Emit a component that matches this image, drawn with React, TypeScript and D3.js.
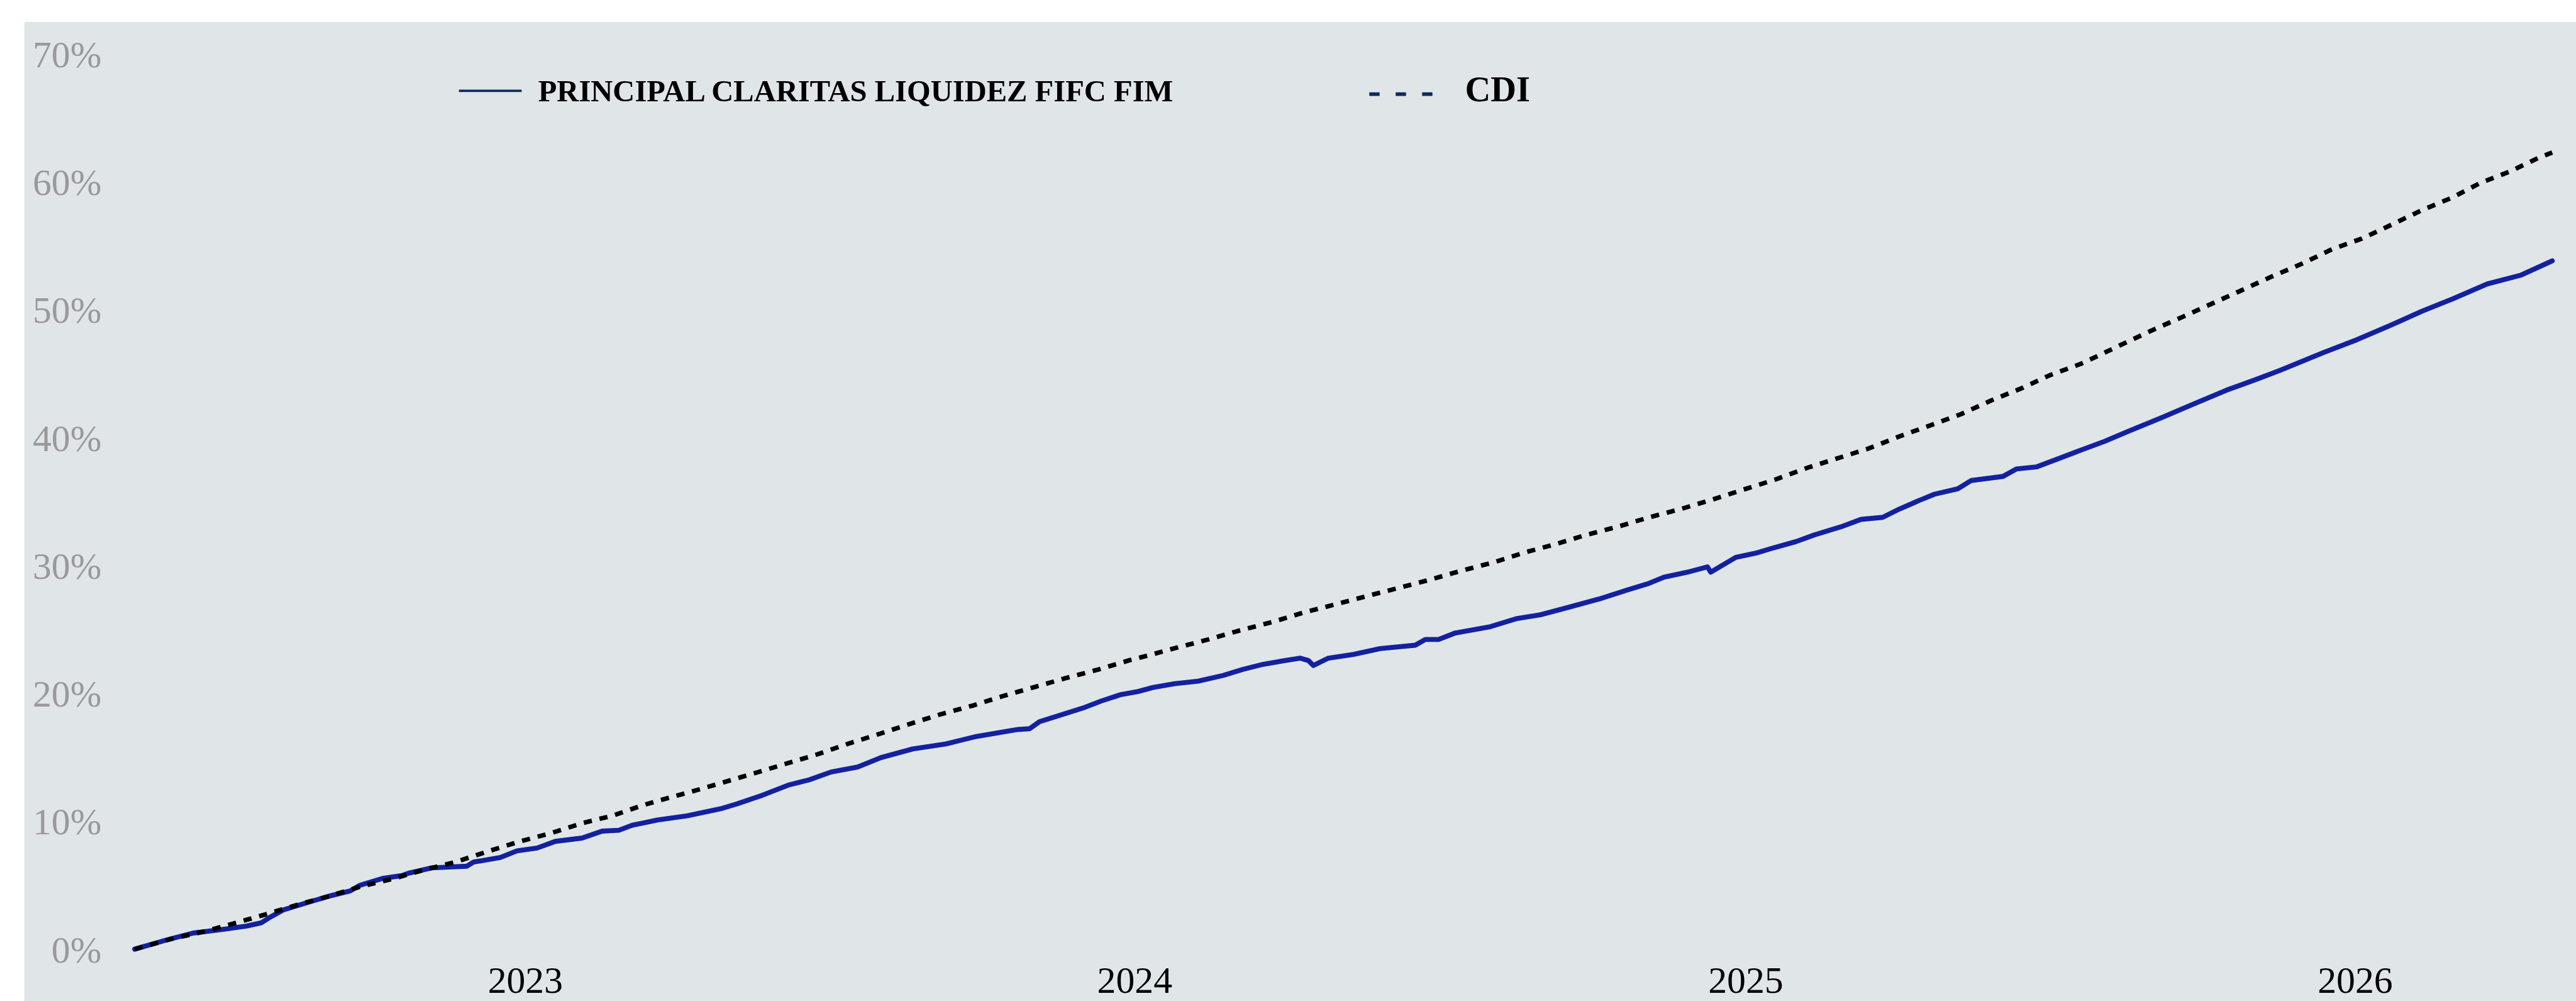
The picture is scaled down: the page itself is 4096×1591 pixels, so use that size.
import React from 'react';
import * as d3 from 'd3';

// values (cumulative return, %)
const fundDates = [
  '2022-05-12', '2022-05-30', '2022-06-16', '2022-07-04', '2022-07-18', '2022-07-27', '2022-08-01', '2022-08-09',
  '2022-08-21', '2022-09-05', '2022-09-18', '2022-09-24', '2022-10-08', '2022-10-19', '2022-10-23', '2022-11-06',
  '2022-11-27', '2022-12-01', '2022-12-17', '2022-12-27', '2023-01-08', '2023-01-19', '2023-02-04', '2023-02-16',
  '2023-02-26', '2023-03-06', '2023-03-21', '2023-04-08', '2023-04-28', '2023-05-08', '2023-05-23', '2023-06-08',
  '2023-06-20', '2023-07-03', '2023-07-19', '2023-08-02', '2023-08-21', '2023-09-10', '2023-09-27', '2023-10-23',
  '2023-10-30', '2023-11-05', '2023-11-17', '2023-12-01', '2023-12-12', '2023-12-24', '2024-01-03', '2024-01-12',
  '2024-01-25', '2024-02-08', '2024-02-23', '2024-03-06', '2024-03-18', '2024-03-31', '2024-04-09', '2024-04-14',
  '2024-04-17', '2024-04-26', '2024-05-11', '2024-05-27', '2024-06-17', '2024-06-23', '2024-07-01', '2024-07-11',
  '2024-08-01', '2024-08-17', '2024-08-31', '2024-09-17', '2024-10-05', '2024-10-22', '2024-11-04', '2024-11-13',
  '2024-11-27', '2024-12-09', '2024-12-11', '2024-12-26', '2025-01-07', '2025-01-15', '2025-01-31', '2025-02-11',
  '2025-02-27', '2025-03-11', '2025-03-24', '2025-04-03', '2025-04-15', '2025-04-24', '2025-05-08', '2025-05-16',
  '2025-06-04', '2025-06-12', '2025-06-24', '2025-07-06', '2025-07-21', '2025-08-04', '2025-08-18', '2025-09-07',
  '2025-09-26', '2025-10-16', '2025-11-04', '2025-11-17', '2025-12-13', '2026-01-02', '2026-01-21', '2026-02-10',
  '2026-03-01', '2026-03-21', '2026-04-10', '2026-04-29'
];
const fundValues = [
  0, 0.68, 1.26, 1.55, 1.81, 2.07, 2.49, 3.07,
  3.55, 4.13, 4.55, 5.0, 5.55, 5.75, 5.94, 6.36,
  6.49, 6.81, 7.17, 7.69, 7.91, 8.43, 8.69, 9.23,
  9.3, 9.69, 10.1, 10.43, 10.98, 11.37, 12.04, 12.85,
  13.24, 13.85, 14.24, 14.98, 15.66, 16.05, 16.6, 17.18,
  17.24, 17.79, 18.28, 18.86, 19.41, 19.92, 20.15, 20.47,
  20.76, 20.96, 21.41, 21.89, 22.28, 22.57, 22.76, 22.57,
  22.18, 22.76, 23.05, 23.51, 23.77, 24.22, 24.22, 24.73,
  25.22, 25.86, 26.15, 26.74, 27.38, 28.09, 28.61, 29.09,
  29.48, 29.9, 29.48, 30.64, 30.97, 31.29, 31.87, 32.39,
  33.03, 33.61, 33.77, 34.42, 35.1, 35.58, 36.0, 36.65,
  36.97, 37.55, 37.71, 38.3, 39.04, 39.72, 40.49, 41.56,
  42.62, 43.72, 44.62, 45.27, 46.66, 47.66, 48.72, 49.89,
  50.89, 52.02, 52.7, 53.83
];

const cdiDates = [
  '2022-05-12', '2022-06-03', '2022-06-23', '2022-07-12', '2022-07-30', '2022-08-18', '2022-09-05', '2022-09-24',
  '2022-10-15', '2022-11-02', '2022-11-20', '2022-12-09', '2022-12-27', '2023-01-17', '2023-02-04', '2023-02-22',
  '2023-03-12', '2023-03-22', '2023-04-10', '2023-04-28', '2023-05-19', '2023-06-06', '2023-06-25', '2023-07-13',
  '2023-07-31', '2023-08-19', '2023-09-06', '2023-09-26', '2023-10-14', '2023-11-03', '2023-11-21', '2023-12-10',
  '2023-12-29', '2024-01-08', '2024-01-26', '2024-02-14', '2024-03-04', '2024-03-23', '2024-04-11', '2024-04-30',
  '2024-05-19', '2024-06-07', '2024-06-26', '2024-07-15', '2024-08-03', '2024-08-21', '2024-09-10', '2024-09-28',
  '2024-10-17', '2024-11-04', '2024-11-23', '2024-12-12', '2025-01-01', '2025-01-19', '2025-02-07', '2025-02-25',
  '2025-03-15', '2025-04-03', '2025-04-21', '2025-05-10', '2025-05-28', '2025-06-16', '2025-07-02', '2025-07-21',
  '2025-08-16', '2025-09-03', '2025-09-20', '2025-10-08', '2025-10-25', '2025-11-12', '2025-11-30', '2025-12-18',
  '2026-01-05', '2026-01-24', '2026-02-10', '2026-02-28', '2026-03-17', '2026-04-04', '2026-04-21', '2026-04-29'
];
const cdiValues = [
  0, 0.8, 1.39, 2.07, 2.74, 3.49, 4.13, 4.88,
  5.55, 6.23, 6.81, 7.62, 8.36, 9.1, 9.85, 10.43,
  11.24, 11.62, 12.3, 12.98, 13.79, 14.5, 15.24, 16.05,
  16.79, 17.6, 18.34, 19.05, 19.79, 20.54, 21.21, 21.86,
  22.6, 22.93, 23.57, 24.22, 24.93, 25.57, 26.32, 26.96,
  27.61, 28.25, 28.9, 29.61, 30.25, 31.0, 31.71, 32.42,
  33.06, 33.77, 34.42, 35.16, 36.0, 36.74, 37.65, 38.39,
  39.13, 40.1, 40.94, 41.85, 42.91, 43.91, 44.88, 45.79,
  47.4, 48.5, 49.47, 50.53, 51.53, 52.6, 53.6, 54.73,
  55.57, 56.73, 57.8, 58.77, 59.93, 60.83, 61.9, 62.3
];

const yTicks = [0, 10, 20, 30, 40, 50, 60, 70];
const yearTicks = ['2023', '2024', '2025', '2026'];
const fundName = 'PRINCIPAL CLARITAS LIQUIDEZ FIFC FIM';
const cdiName = 'CDI';

const S = 4096 / 6242;
const W = 4096;
const H = Math.round(2424 * S);
const FONT = '"Liberation Serif", "Times New Roman", serif';

function App() {
  const parse = d3.timeParse('%Y-%m-%d');

  const x = d3.scaleTime()
    .domain([parse('2023-01-01'), parse('2026-01-01')])
    .range([1273 * S, 5707 * S]);

  const y = d3.scaleLinear()
    .domain([0, 70])
    .range([2299 * S, 131 * S]);

  const fund = fundDates.map((d, i) => ({ date: parse(d), value: fundValues[i] }));
  const cdi = cdiDates.map((d, i) => ({ date: parse(d), value: cdiValues[i] }));

  const line = d3.line()
    .x(d => x(d.date))
    .y(d => y(d.value));

  return (
    <div style={{ position: 'absolute', left: 0, top: 0 }}>
      <svg width={W} height={H} style={{ display: 'block' }}>
        <rect x={0} y={0} width={W} height={H} fill="#ffffff" />
        <rect x={59 * S} y={53 * S} width={W - 59 * S} height={H - 53 * S} fill="#e0e5e8" />

        {yTicks.map(t => (
          <text
            key={t}
            x={246 * S}
            y={y(t)}
            dy={0.35 * 91 * S}
            textAnchor="end"
            fontFamily={FONT}
            fontSize={91 * S}
            fill="#999999"
          >
            {t}%
          </text>
        ))}

        {yearTicks.map(t => (
          <text
            key={t}
            x={x(parse(t + '-01-01'))}
            y={2405 * S}
            textAnchor="middle"
            fontFamily={FONT}
            fontSize={91 * S}
            fill="#000000"
          >
            {t}
          </text>
        ))}

        <path
          d={line(fund)}
          fill="none"
          stroke="#1321a0"
          strokeWidth={12 * S}
          strokeLinejoin="round"
          strokeLinecap="round"
        />
        <path
          d={line(cdi)}
          fill="none"
          stroke="#000000"
          strokeWidth={11 * S}
          strokeDasharray={`${20 * S},${19 * S}`}
        />

        {/* legend */}
        <line x1={1112 * S} x2={1264 * S} y1={220 * S} y2={220 * S} stroke="#0b2b5b" strokeWidth={6 * S} />
        <text x={1304 * S} y={246 * S} fontFamily={FONT} fontWeight="bold" fontSize={74 * S} fill="#000000">
          {fundName}
        </text>
        <line
          x1={3318 * S}
          x2={3473 * S}
          y1={228 * S}
          y2={228 * S}
          stroke="#0b2b5b"
          strokeWidth={9 * S}
          strokeDasharray={`${25 * S},${39 * S}`}
        />
        <text x={3550 * S} y={246 * S} fontFamily={FONT} fontWeight="bold" fontSize={86 * S} fill="#000000">
          {cdiName}
        </text>
      </svg>
    </div>
  );
}

export default App;
